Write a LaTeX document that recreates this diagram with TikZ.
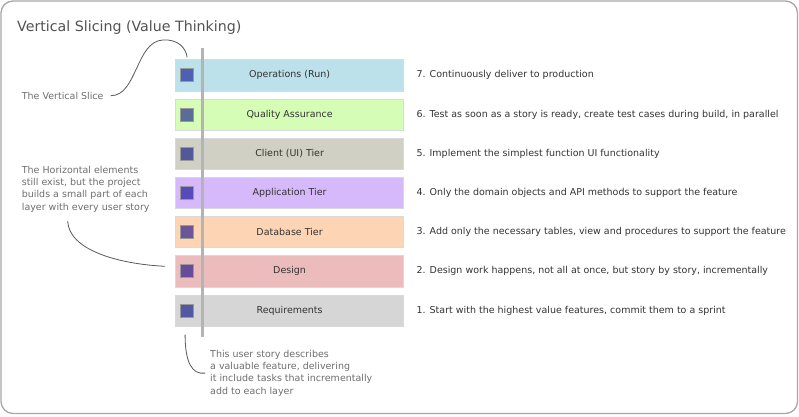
\documentclass[tikz,border=0pt]{standalone}
\usepackage{fontspec}
\setmainfont{DejaVu Sans}
\usetikzlibrary{positioning}

\definecolor{txt}{HTML}{333333}
\definecolor{notegray}{HTML}{6E6E6E}
\definecolor{framegray}{HTML}{A8A8A8}
\definecolor{slicegray}{HTML}{B4B4B4}
\definecolor{opsfill}{HTML}{BCE1EB}
\definecolor{qafill}{HTML}{D5FDB6}
\definecolor{uifill}{HTML}{D0D0C4}
\definecolor{appfill}{HTML}{D6B9FA}
\definecolor{dbfill}{HTML}{FDD5B5}
\definecolor{dsgfill}{HTML}{ECBCBC}
\definecolor{reqfill}{HTML}{D6D6D6}
\definecolor{opschip}{HTML}{4F5FB2}
\definecolor{qachip}{HTML}{5A6D96}
\definecolor{uichip}{HTML}{53589A}
\definecolor{appchip}{HTML}{574ABA}
\definecolor{dbchip}{HTML}{6B5597}
\definecolor{dsgchip}{HTML}{664C9B}
\definecolor{reqchip}{HTML}{5358A3}

\begin{document}
\begin{tikzpicture}[x=1pt, y=-1pt,
  layer/.style={draw=black!15, line width=0.8pt, minimum width=228.2pt,
    minimum height=31.2pt, inner sep=0pt, text=txt,
    font=\fontsize{9.5}{12}\selectfont},
  chip/.style={draw=black!40, line width=1pt, minimum size=13pt, inner sep=0pt},
  desc/.style={anchor=west, inner sep=0pt, text=txt,
    font=\fontsize{9.5}{12}\selectfont},
  note/.style={inner sep=0pt, align=left, text=notegray,
    font=\fontsize{9.5}{12.2}\selectfont},
  lead/.style={draw=black!65, line width=0.8pt},
  slice/.style={draw=slicegray, line width=3pt}]

\useasboundingbox (0,0) rectangle (799,416);

% frame
\draw[framegray, line width=1.3pt, rounded corners=12pt] (1,1) rectangle (797.5,413.5);

% title
\node[anchor=base west, inner sep=0pt, text=black!68,
  font=\fontsize{14.2}{17}\selectfont] (title) at (17,31.7)
  {Vertical Slicing (Value Thinking)};

% the layers, top to bottom
\node[layer, fill=opsfill, anchor=west] (ops) at (175.1,75.3) {Operations (Run)};
\node[layer, fill=qafill, below=7.2pt of ops] (qa) {Quality Assurance};
\node[layer, fill=uifill, below=7.2pt of qa] (ui) {Client (UI) Tier};
\node[layer, fill=appfill, below=7.2pt of ui] (app) {Application Tier};
\node[layer, fill=dbfill, below=7.2pt of app] (db) {Database Tier};
\node[layer, fill=dsgfill, below=7.2pt of db] (dsg) {Design};
\node[layer, fill=reqfill, below=7.2pt of dsg] (req) {Requirements};

% small squares at the left of each layer
\node[chip, fill=opschip, right=5pt of ops.west] (opsc) {};
\node[chip, fill=qachip, right=5pt of qa.west] (qac) {};
\node[chip, fill=uichip, right=5pt of ui.west] (uic) {};
\node[chip, fill=appchip, right=5pt of app.west] (appc) {};
\node[chip, fill=dbchip, right=5pt of db.west] (dbc) {};
\node[chip, fill=dsgchip, right=5pt of dsg.west] (dsgc) {};
\node[chip, fill=reqchip, right=5pt of req.west] (reqc) {};

% what each layer does in the slice
\node[desc, right=12.3pt of ops] (opsd) {7. Continuously deliver to production};
\node[desc, right=12.3pt of qa] (qad) {6. Test as soon as a story is ready, create test cases during build, in parallel};
\node[desc, right=12.3pt of ui] (uid) {5. Implement the simplest function UI functionality};
\node[desc, right=12.3pt of app] (appd) {4. Only the domain objects and API methods to support the feature};
\node[desc, right=12.3pt of db] (dbd) {3. Add only the necessary tables, view and procedures to support the feature};
\node[desc, right=12.3pt of dsg] (dsgd) {2. Design work happens, not all at once, but story by story, incrementally};
\node[desc, right=12.3pt of req] (reqd) {1. Start with the highest value features, commit them to a sprint};

% the slice through all layers
\coordinate (slicetop) at (202.5,48);
\coordinate (slicebot) at (202.5,336.5);
\draw[slice] (slicetop) -- (slicebot);

% annotations
\node[note, anchor=west] (vsnote) at (21.7,95.7) {The Vertical Slice};
\node[note, anchor=north west] (hznote) at (21.7,166)
  {The Horizontal elements\\still exist, but the project\\builds a small part of each\\layer with every user story};
\node[note, anchor=north west] (usnote) at (210,350)
  {This user story describes\\a valuable feature, delivering\\it include tasks that incrementally\\add to each layer};

% leader curves
\coordinate (vstip) at ([yshift=11pt]opsc.north);
\draw[lead] ([xshift=7pt]vsnote.east) .. controls (137,96) and (136,41) .. (163,40)
  .. controls (178,39) and (186,48) .. (vstip);
\coordinate (hztip) at ([shift={(-10pt,5pt)}]dsg.west);
\draw[lead] ([shift={(46pt,-9pt)}]hznote.south west) .. controls (69,250) and (118,264) .. (hztip);
\coordinate (ustip) at ([shift={(-2pt,-17pt)}]reqc.south);
\draw[lead] (ustip) .. controls (185,362) and (192,375) .. ([xshift=-5pt]usnote.west);

\end{tikzpicture}
\end{document}
